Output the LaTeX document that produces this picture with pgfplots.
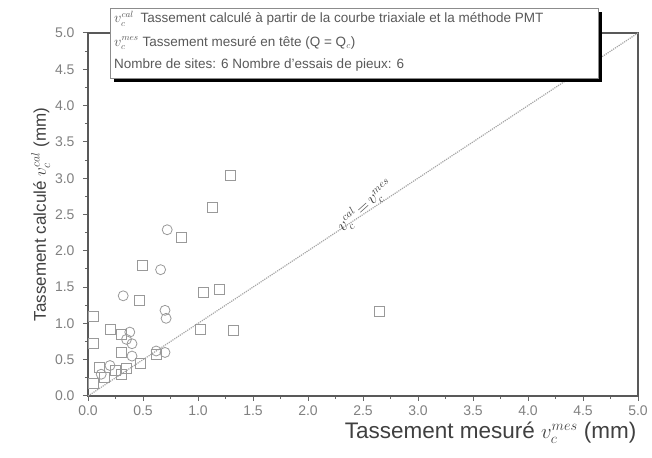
\documentclass[border=0pt]{standalone}
\usepackage{pgfplots}
\pgfplotsset{compat=1.18}
\usepackage{fontspec}
\setmainfont{Liberation Sans}
\begin{document}
\begin{tikzpicture}
\begin{axis}[name=ax,
  scale only axis, width=550pt, height=363pt,
  xmin=0, xmax=5, ymin=0, ymax=5,
  xtick={0,0.5,...,5}, ytick={0,0.5,...,5},
  minor tick num=1,
  tick align=outside,
  xtick pos=bottom, ytick pos=left,
  major tick length=5pt, minor tick length=3pt,
  axis line style={draw=black!65, line width=1.4pt},
  every tick/.style={black!60, line width=1pt},
  tick label style={font=\fontsize{14}{16}\selectfont, text=black!50},
  yticklabel style={xshift=-5pt},
  xticklabel style={yshift=-1pt},
  /pgf/number format/assume math mode=true,
  /pgf/number format/.cd, fixed, fixed zerofill, precision=1, /pgfplots/.cd,
  xlabel={Tassement mesuré $v_c^{mes}$ (mm)},
  ylabel={Tassement calculé $v_c^{cal}$ (mm)},
  label style={text=black!75},
  xlabel style={font=\fontsize{22.5}{24}\selectfont, at={(rel axis cs:1,0)}, anchor=north east, yshift=-22pt, xshift=2pt},
  ylabel style={font=\fontsize{17}{19}\selectfont, yshift=-2pt},
  clip=false,
]
\addplot[black!35, densely dotted, line width=1.2pt] coordinates {(0,0) (5,5)};
\addplot[only marks, mark=square, mark size=5pt, black!40, mark options={line width=0.8pt}] coordinates {
(1.29,3.04) (1.13,2.60) (0.85,2.18) (0.49,1.80) (0.47,1.31)
(0.05,1.10) (1.05,1.43) (1.19,1.47) (0.20,0.92) (0.30,0.85)
(0.05,0.72) (0.30,0.60) (0.48,0.45) (0.62,0.57) (1.02,0.92)
(1.32,0.90) (2.65,1.16) (0.10,0.40) (0.25,0.35) (0.15,0.25)
(0.30,0.30) (0.05,0.18) (0.35,0.38)
};
\addplot[only marks, mark=o, mark size=5pt, black!40, mark options={line width=0.8pt}] coordinates {
(0.72,2.29) (0.66,1.74) (0.32,1.38) (0.70,1.18) (0.71,1.07)
(0.38,0.88) (0.35,0.78) (0.40,0.72) (0.70,0.60) (0.20,0.42)
(0.12,0.30) (0.40,0.55) (0.62,0.62)
};
\node[rotate=42, font=\fontsize{16}{18}\selectfont, text=black!75] at (axis cs:2.52,2.62) {$v_c^{cal}\!=\!v_c^{mes}$};
\end{axis}
% legend box with shadow
\path (ax.south west) ++(22pt,318pt) coordinate (lsw);
\path (ax.south west) ++(510pt,388pt) coordinate (lne);
\fill[black] ([xshift=4pt,yshift=-4pt]lsw) rectangle ([xshift=4pt,yshift=-4pt]lne);
\filldraw[fill=white, draw=black!45, line width=0.8pt] (lsw) rectangle (lne);
\node[anchor=west, font=\fontsize{13.5}{15}\selectfont, text=black!65, inner sep=1pt] at ([xshift=3pt,yshift=-11pt]lsw|-lne) {$v_c^{cal}$\enspace Tassement calculé à partir de la courbe triaxiale et la méthode PMT};
\node[anchor=west, font=\fontsize{13.5}{15}\selectfont, text=black!65, inner sep=1pt] at ([xshift=3pt,yshift=-35pt]lsw|-lne) {$v_c^{mes}$ Tassement mesuré en tête (Q = Q$_c$)};
\node[anchor=west, font=\fontsize{13.5}{15}\selectfont, text=black!65, inner sep=1pt] at ([xshift=3pt,yshift=-57pt]lsw|-lne) {Nombre de sites: 6 Nombre d'essais de pieux: 6};
\pgfresetboundingbox
\path ([xshift=-88pt,yshift=-61pt]ax.south west) rectangle ([xshift=14pt,yshift=33pt]ax.north east);
\end{tikzpicture}
\end{document}
